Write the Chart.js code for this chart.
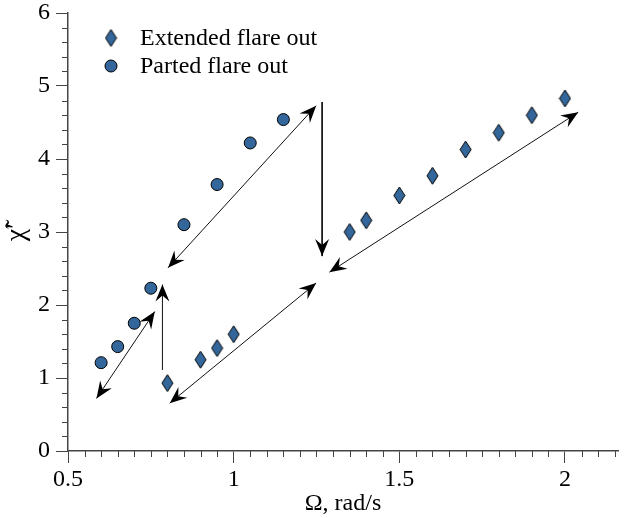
<!DOCTYPE html>
<html>
<head>
<meta charset="utf-8">
<script src="https://cdn.jsdelivr.net/npm/chart.js@4.4.0/dist/chart.umd.min.js"></script>
<style>
  html, body { margin: 0; padding: 0; background: #fff; }
</style>
</head>
<body>
<canvas id="grafico" width="626" height="518"></canvas>
<script>
  // dados
  var extX = [0.80, 0.90, 0.95, 1.00, 1.35, 1.40, 1.50, 1.60, 1.70, 1.80, 1.90, 2.00];
  var extY = [0.93, 1.25, 1.41, 1.60, 3.00, 3.16, 3.50, 3.77, 4.13, 4.36, 4.60, 4.83];
  var partX = [0.60, 0.65, 0.70, 0.75, 0.85, 0.95, 1.05, 1.15];
  var partY = [1.21, 1.43, 1.75, 2.23, 3.10, 3.65, 4.22, 4.54];

  // setas: inicio, fim, e se tem ponta dos dois lados
  var arrowFrom = [[0.586, 0.72], [0.785, 1.11], [0.807, 0.655], [0.802, 2.51], [1.267, 4.78], [1.289, 2.45]];
  var arrowTo   = [[0.762, 1.91], [0.785, 2.28], [1.249, 2.30],  [1.249, 4.73], [1.267, 2.67], [2.040, 4.64]];
  var arrowBoth = [true, false, true, true, false, true];

  var xTicks = [0.5, 1, 1.5, 2];
  var yTicks = [0, 1, 2, 3, 4, 5, 6];

  var fonte = 'Liberation Serif';
  var azul = '#33669a';

  // losango mais alto que largo
  var losango = document.createElement('canvas');
  losango.width = 13; losango.height = 19;
  var lc = losango.getContext('2d');
  lc.beginPath();
  lc.moveTo(6.5, 1); lc.lineTo(12, 9.5); lc.lineTo(6.5, 18); lc.lineTo(1, 9.5); lc.closePath();
  lc.fillStyle = azul; lc.fill();
  lc.strokeStyle = '#000'; lc.lineWidth = 1; lc.stroke();

  var datasets = [
    { label: 'Extended flare out', data: extX.map(function (x, i) { return { x: x, y: extY[i] }; }),
      pointStyle: losango, pointRadius: 7, showLine: false },
    { label: 'Parted flare out', data: partX.map(function (x, i) { return { x: x, y: partY[i] }; }),
      pointStyle: 'circle', pointRadius: 6, backgroundColor: azul, borderColor: '#000', borderWidth: 1, showLine: false }
  ];
  arrowFrom.forEach(function (p, i) {
    datasets.push({
      label: 'seta' + i, type: 'line', seta: true, both: arrowBoth[i],
      data: [{ x: p[0], y: p[1] }, { x: arrowTo[i][0], y: arrowTo[i][1] }],
      borderColor: '#111', borderWidth: 1, pointRadius: 0, fill: false
    });
  });

  function cabeca(c, x1, y1, x2, y2) {
    var a = Math.atan2(y2 - y1, x2 - x1);
    c.save();
    c.translate(x2, y2); c.rotate(a);
    c.beginPath();
    c.moveTo(0, 0); c.lineTo(-17, -7); c.lineTo(-11, 0); c.lineTo(-17, 7); c.closePath();
    c.fillStyle = '#000'; c.fill();
    c.restore();
  }

  var extras = {
    id: 'extras',
    afterDatasetsDraw: function (chart) {
      var c = chart.ctx;
      chart.data.datasets.forEach(function (ds, i) {
        if (!ds.seta) return;
        var pts = chart.getDatasetMeta(i).data;
        cabeca(c, pts[0].x, pts[0].y, pts[1].x, pts[1].y);
        if (ds.both) cabeca(c, pts[1].x, pts[1].y, pts[0].x, pts[0].y);
      });
    },
    afterDraw: function (chart) {
      var c = chart.ctx, xs = chart.scales.x, ys = chart.scales.y;
      c.save();
      c.strokeStyle = '#444'; c.lineWidth = 1;
      // marcas menores
      for (var k = 11; k * 0.05 <= xs.max + 1e-9; k++) {
        if (k % 10 === 0) continue;
        var px = Math.round(xs.getPixelForValue(k * 0.05)) + 0.5;
        c.beginPath(); c.moveTo(px, ys.bottom); c.lineTo(px, ys.bottom + 6); c.stroke();
      }
      for (var j = 1; j * 0.2 < ys.max; j++) {
        if (j % 5 === 0) continue;
        var py = Math.round(ys.getPixelForValue(j * 0.2)) + 0.5;
        c.beginPath(); c.moveTo(xs.left - 6, py); c.lineTo(xs.left, py); c.stroke();
      }
      // legenda
      var items = [[losango, 38], ['circle', 66]];
      c.font = '24px "' + fonte + '"';
      c.textBaseline = 'middle'; c.textAlign = 'left'; c.fillStyle = '#000';
      items.forEach(function (it, i) {
        if (it[0] === 'circle') {
          c.beginPath(); c.arc(111, it[1], 6, 0, Math.PI * 2);
          c.fillStyle = azul; c.fill(); c.strokeStyle = '#000'; c.stroke();
        } else {
          c.drawImage(losango, 111 - 6.5, it[1] - 9.5);
        }
        c.fillStyle = '#000';
        c.fillText(chart.data.datasets[i].label, 140, it[1] + 1);
      });
      c.restore();
    }
  };

  var ctx = document.getElementById('grafico').getContext('2d');
  var grafico = new Chart(ctx, {
    type: 'scatter',
    data: { datasets: datasets },
    options: {
      responsive: false,
      animation: false,
      events: [],
      layout: { padding: { top: 0, right: 0, left: 0, bottom: 0 } },
      plugins: { legend: { display: false }, tooltip: { enabled: false } },
      scales: {
        x: {
          type: 'linear', min: 0.5, max: 2.16,
          afterFit: function (s) { s.height = 67; },
          afterBuildTicks: function (s) { s.ticks = xTicks.map(function (v) { return { value: v }; }); },
          ticks: { font: { family: fonte, size: 24 }, color: '#000', padding: 2,
                   callback: function (v) { return String(v); } },
          grid: { drawOnChartArea: false, drawTicks: true, tickLength: 12, tickColor: '#444' },
          border: { display: true, color: '#444', width: 1.5 },
          title: { display: true, text: 'Ω, rad/s', font: { family: fonte, size: 24 }, color: '#000', padding: { top: 0, bottom: 0 } }
        },
        y: {
          type: 'linear', min: 0, max: 6,
          afterFit: function (s) { s.width = 68; s.paddingTop = 13; s.paddingBottom = 0; },
          afterBuildTicks: function (s) { s.ticks = yTicks.map(function (v) { return { value: v }; }); },
          ticks: { font: { family: fonte, size: 24, lineHeight: 1 }, color: '#000', padding: 6 },
          grid: { drawOnChartArea: false, drawTicks: true, tickLength: 12, tickColor: '#444' },
          border: { display: true, color: '#444', width: 1.5 },
          title: { display: true, text: 'χ\u0303\u2032', font: { family: fonte, size: 28 }, color: '#000', padding: { top: 0, bottom: 0 } }
        }
      }
    },
    plugins: [extras]
  });
</script>
</body>
</html>
